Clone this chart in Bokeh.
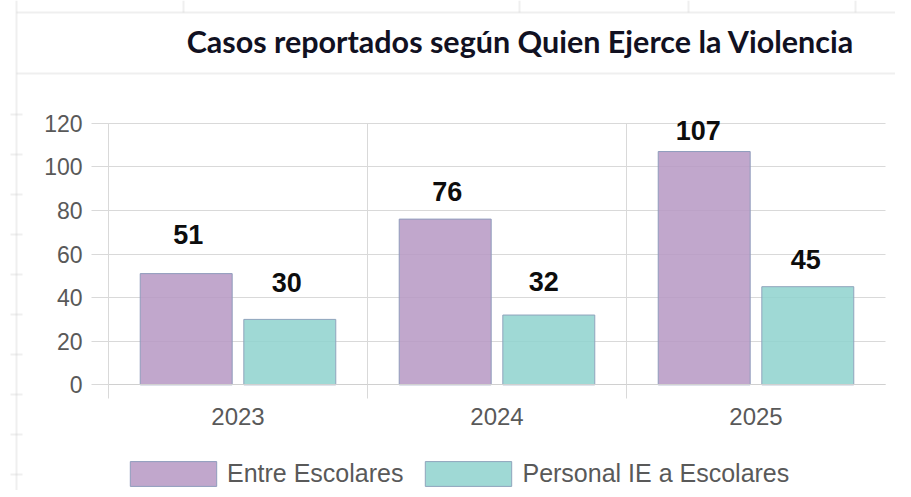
from bokeh.plotting import figure
from bokeh.models import (Range1d, FixedTicker, Legend, LegendItem, Label,
                          ColumnDataSource, PolyAnnotation, Grid)
from bokeh.transform import dodge
from bokeh.core.properties import value
from bokeh.embed import file_html
from bokeh.resources import INLINE

# ---------------- data ----------------
years = ["2023", "2024", "2025"]
entre_escolares = [51, 76, 107]
personal_ie = [30, 32, 45]
series_names = ["Entre Escolares", "Personal IE a Escolares"]
y_ticks = [0, 20, 40, 60, 80, 100, 120]
title_text = "Casos reportados según Quien Ejerce la Violencia"

# ---------------- layout / styles ----------------
W, H = 895, 490
PLOT_L, PLOT_R, PLOT_T, PLOT_B = 108, 885, 122.7, 384.3   # plot area in pixels
GRID = "#d9d9d9"
SHEET = "#cacaca"
TXT_GRAY = "#595959"
PURPLE, PURPLE_LINE = "#b698c3", "#8f9cbc"
TEAL, TEAL_LINE = "#8ed2ce", "#8fa4bc"
FONT = "Liberation Sans"
TITLE_FONT = "Lato"
DODGE = 0.2
BAR_W = 0.355
entre_lbl_dy = [39, 28, 21]
entre_lbl_dx = [2, 2, -6]
pers_lbl_dy = [37, 34, 27]
pers_lbl_dx = [-3, -5, -2]

n = len(years)
centers = [i + 0.5 for i in range(n)]
bounds = [float(i) for i in range(n)]
y_max = y_ticks[-1]

# ranges chosen so that the frame fills the canvas and the plot area lands on PLOT_*
px_x = (PLOT_R - PLOT_L) / n
px_y = (PLOT_B - PLOT_T) / y_max
x_range = Range1d(-PLOT_L / px_x, n + (W - PLOT_R) / px_x)
y_range = Range1d(-(H - PLOT_B) / px_y, y_max + PLOT_T / px_y)

src = ColumnDataSource(dict(x=centers, entre=entre_escolares, pers=personal_ie))

p = figure(width=W, height=H, output_backend="svg", toolbar_location=None,
           x_range=x_range, y_range=y_range,
           min_border_left=0, min_border_right=0, min_border_top=0, min_border_bottom=0)
p.title.visible = False
p.outline_line_color = None
p.background_fill_color = "white"
p.border_fill_color = "white"

# grid
cb_ok = "cross_bounds" in Grid.properties()
p.ygrid.ticker = FixedTicker(ticks=y_ticks)
p.xgrid.ticker = FixedTicker(ticks=centers, minor_ticks=bounds)
p.xgrid.grid_line_color = None
if cb_ok:
    p.ygrid.grid_line_color = GRID
    p.ygrid.cross_bounds = (0, n)
    p.xgrid.minor_grid_line_color = GRID
    p.xgrid.cross_bounds = (0, y_max)
else:
    p.ygrid.grid_line_color = None
    p.segment(x0=[0] * len(y_ticks), x1=[n] * len(y_ticks), y0=y_ticks, y1=y_ticks,
              line_color=GRID, line_width=1, level="underlay")
    p.segment(x0=bounds, x1=bounds, y0=[0] * n, y1=[y_max] * n,
              line_color=GRID, line_width=1, level="underlay")

# bars
r1 = p.vbar(x=dodge("x", -DODGE), top="entre", width=BAR_W, source=src,
            fill_color=PURPLE, fill_alpha=0.85, line_color=PURPLE_LINE, line_width=1)
r2 = p.vbar(x=dodge("x", DODGE), top="pers", width=BAR_W, source=src,
            fill_color=TEAL, fill_alpha=0.85, line_color=TEAL_LINE, line_width=1)

# value labels
lbl = ColumnDataSource(dict(
    x=[c - DODGE for c in centers] + [c + DODGE for c in centers],
    y=entre_escolares + personal_ie,
    t=[str(v) for v in entre_escolares + personal_ie],
    dx=entre_lbl_dx + pers_lbl_dx,
    dy=[-d for d in entre_lbl_dy + pers_lbl_dy],
))
p.text(x="x", y="y", text="t", x_offset="dx", y_offset="dy", source=lbl,
       text_align="center", text_baseline="alphabetic",
       text_font=value(FONT), text_font_style="bold", text_font_size="27px",
       text_color="#0d0d0d")

# axes, fixed inside the frame at the plot-area edges
xa = p.xaxis[0]
xa.fixed_location = 0
xa.bounds = (0, n)
xa.ticker = FixedTicker(ticks=centers, minor_ticks=bounds)
xa.major_label_overrides = {c: y for c, y in zip(centers, years)}
xa.major_tick_line_color = None
xa.major_tick_out = 0
xa.major_tick_in = 0
xa.minor_tick_line_color = GRID
xa.minor_tick_out = 14
xa.minor_tick_in = 0
xa.axis_line_color = "#d0d0d0"
xa.major_label_standoff = 9
xa.major_label_text_font = FONT
xa.major_label_text_font_size = "24px"
xa.major_label_text_color = TXT_GRAY

ya = p.yaxis[0]
ya.fixed_location = 0
ya.bounds = (0, y_max)
ya.ticker = FixedTicker(ticks=y_ticks)
ya.major_tick_line_color = GRID
ya.major_tick_out = 17
ya.major_tick_in = 0
ya.minor_tick_line_color = None
ya.axis_line_color = GRID
ya.major_label_standoff = 9
ya.major_label_text_font = FONT
ya.major_label_text_font_size = "23px"
ya.major_label_text_color = TXT_GRAY

# legend (screen units: from the frame's bottom-left corner, which is the canvas corner)
legend = Legend(items=[LegendItem(label=series_names[0], renderers=[r1]),
                       LegendItem(label=series_names[1], renderers=[r2])],
                orientation="horizontal", location=(119, H - 489),
                glyph_width=108, glyph_height=31, label_height=31,
                label_standoff=0, spacing=11, padding=0, margin=0,
                border_line_color=None, background_fill_alpha=0,
                label_text_font=FONT, label_text_font_size="25px",
                label_text_color=TXT_GRAY)
p.add_layout(legend, "center")

# title
p.add_layout(Label(x=520, y=H - 40, x_units="screen", y_units="screen",
                   text=title_text, text_align="center", text_baseline="alphabetic",
                   text_font=TITLE_FONT, text_font_style="bold", text_font_size="30.5px",
                   text_color="#111122"))

# spreadsheet cell borders in the background (pixel coordinates from top-left)
sheet_lines = [
    ((16, 0), (16, H)),
    ((16, 12), (W, 12)),
    ((16, 73), (W, 73)),
] + [((x, 0), (x, 12)) for x in (183, 519, 688, 855)] \
  + [((10, y), (22, y)) for y in range(114, 480, 40)]
for (x0, y0), (x1, y1) in sheet_lines:
    p.add_layout(PolyAnnotation(xs=[x0, x1], ys=[H - y0, H - y1],
                                xs_units="screen", ys_units="screen",
                                fill_alpha=0, line_color=SHEET, line_width=2,
                                level="underlay"))

open("out.html", "w").write(file_html(p, INLINE))
